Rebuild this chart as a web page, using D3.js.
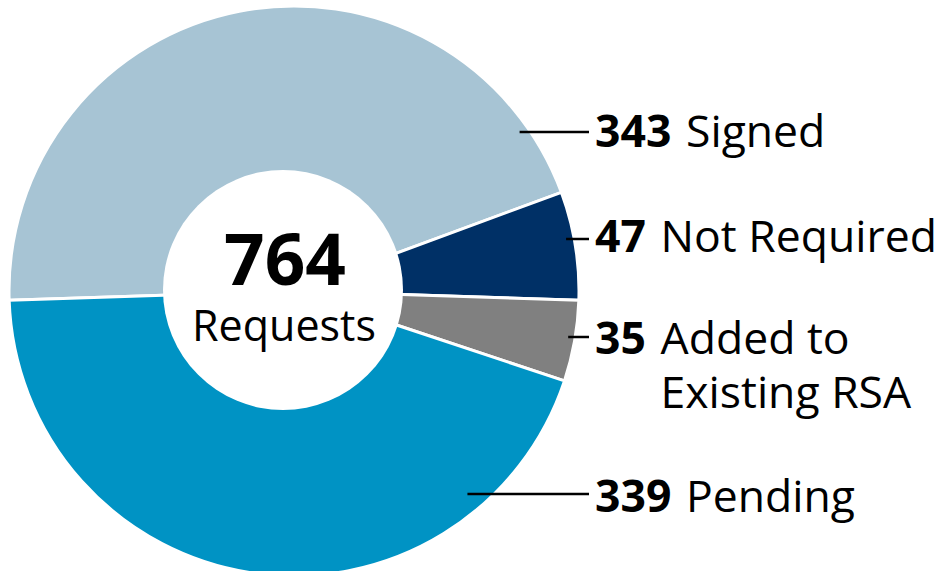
<!DOCTYPE html>
<html>
<head>
<meta charset="utf-8">
<script src="https://cdn.jsdelivr.net/npm/d3@7/dist/d3.min.js"></script>
<style>
  body { margin: 0; background: #fff; }
  text { font-family: "Open Sans", sans-serif; fill: #000; }
</style>
</head>
<body>
<div id="chart-area"></div>
<script>
// data
const categories = ["Signed", "Not Required", "Added to Existing RSA", "Pending"]
const labelLines = [["Signed"], ["Not Required"], ["Added to", "Existing RSA"], ["Pending"]]
const values = [343, 47, 35, 339]
const colors = ["#a7c4d4", "#003066", "#808080", "#0093c4"]
const centerLabel = "Requests"

// layout
const WIDTH = 938, HEIGHT = 571
const CX = 294, CY = 291, OUTER = 285, INNER = 100
const HOLE = { X: 283, Y: 290, R: 120 }
const LABEL_X = 595, LINE_END = 589
const LINE_Y = [132, 239, 337, 494]
const BASE_Y = [147, 252, 354, 512]
const INSET = [9, 8, 7, 18]
const FONT = 44.5, LINE_GAP = 54

const svg = d3.select("#chart-area").append("svg")
  .attr("width", WIDTH)
  .attr("height", HEIGHT)

const data = categories.map((c, i) => ({ name: c, value: values[i], color: colors[i], lines: labelLines[i] }))

// keep both horizontal gaps close to level
const total = d3.sum(values)
const tilt = ((values[0] + values[1]) / total * 2 * Math.PI - Math.PI) / 2
const start = -Math.PI / 2 - tilt

const pie = d3.pie()
  .sort(null)
  .value(d => d.value)
  .startAngle(start)
  .endAngle(start + 2 * Math.PI)

const arc = d3.arc()
  .innerRadius(INNER)
  .outerRadius(OUTER)

const g = svg.append("g")
  .attr("transform", `translate(${CX}, ${CY})`)

g.selectAll("path")
  .data(pie(data))
  .enter().append("path")
    .attr("d", arc)
    .attr("fill", d => d.data.color)
    .attr("stroke", "#fff")
    .attr("stroke-width", 3)
    .attr("stroke-linejoin", "round")

// white centre
svg.append("circle")
  .attr("cx", HOLE.X)
  .attr("cy", HOLE.Y)
  .attr("r", HOLE.R)
  .attr("fill", "#fff")

svg.append("text")
  .attr("x", HOLE.X + 2)
  .attr("y", 285)
  .attr("text-anchor", "middle")
  .style("font-size", "71px")
  .style("font-weight", "bold")
  .text(total)

svg.append("text")
  .attr("x", HOLE.X + 1)
  .attr("y", 341)
  .attr("text-anchor", "middle")
  .style("font-size", "43px")
  .text(centerLabel)

// leader lines + labels
data.forEach((d, i) => {
  const dy = LINE_Y[i] - CY
  const r = OUTER - INSET[i]
  const x0 = CX + Math.sqrt(r * r - dy * dy)

  svg.append("line")
    .attr("x1", x0)
    .attr("x2", LINE_END)
    .attr("y1", LINE_Y[i])
    .attr("y2", LINE_Y[i])
    .attr("stroke", "#000")
    .attr("stroke-width", 2.5)

  const num = svg.append("text")
    .attr("x", LABEL_X)
    .attr("y", BASE_Y[i])
    .style("font-size", FONT + "px")
    .style("font-weight", "bold")
    .text(d.value)

  const nameX = LABEL_X + num.node().getComputedTextLength() + FONT * 0.33

  d.lines.forEach((line, j) => {
    svg.append("text")
      .attr("x", nameX)
      .attr("y", BASE_Y[i] + j * LINE_GAP)
      .style("font-size", FONT + "px")
      .text(line)
  })
})
</script>
</body>
</html>
